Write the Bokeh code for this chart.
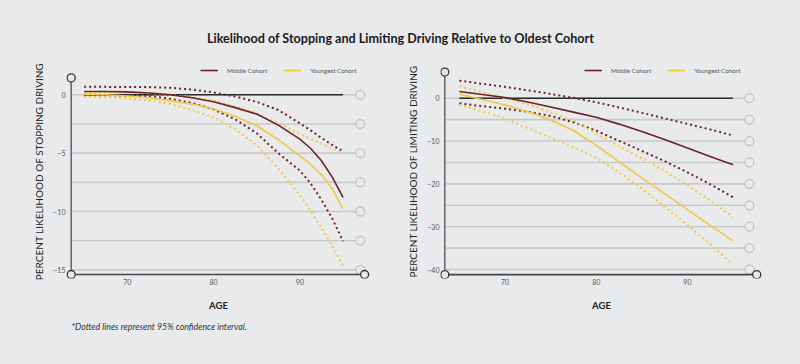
from bokeh.plotting import figure
from bokeh.layouts import column, row
from bokeh.models import (Range1d, Legend, LegendItem, Title, FixedTicker,
                          GlobalInlineStyleSheet)
from bokeh.embed import file_html
from bokeh.resources import INLINE

# ---------------- data ----------------
stop_ages = [65, 67.5, 70, 72.5, 75, 77.5, 80, 82.5, 85, 87.5, 90, 91.25, 92.5, 93.75, 95]
stop_oldest = [0, 0, 0, 0, 0, 0, 0, 0, 0, 0, 0, 0, 0, 0, 0]
stop_middle = [0.28, 0.28, 0.25, 0.15, 0.0, -0.25, -0.6, -1.1, -1.65, -2.6, -3.8, -4.6, -5.65, -7.05, -8.8]
stop_young = [0.05, 0.0, -0.1, -0.28, -0.5, -0.8, -1.2, -1.85, -2.65, -3.85, -5.25, -5.95, -6.85, -8.05, -9.75]
stop_middle_hi = [0.68, 0.68, 0.67, 0.66, 0.6, 0.45, 0.2, -0.15, -0.6, -1.3, -2.45, -3.05, -3.7, -4.3, -4.85]
stop_middle_lo = [-0.03, -0.04, -0.06, -0.08, -0.35, -0.7, -1.25, -2.1, -3.3, -5.0, -6.5, -7.6, -9.0, -10.6, -12.55]
stop_young_hi = [0.2, 0.2, 0.18, 0.14, 0.0, -0.2, -0.5, -1.0, -1.6, -2.45, -3.35, -3.8, -4.2, -4.6, -4.95]
stop_young_lo = [-0.17, -0.2, -0.3, -0.48, -0.8, -1.3, -1.95, -2.95, -4.3, -6.3, -8.6, -9.95, -11.4, -12.95, -14.65]

lim_ages = [65, 67.5, 70, 72.5, 75, 77.5, 80, 82.5, 85, 87.5, 90, 92.5, 95]
lim_oldest = [0, 0, 0, 0, 0, 0, 0, 0, 0, 0, 0, 0, 0]
lim_middle = [1.55, 0.85, 0.15, -0.9, -2.05, -3.25, -4.45, -6.05, -7.8, -9.65, -11.65, -13.6, -15.55]
lim_young = [0.93, -0.3, -1.6, -3.15, -5.1, -7.55, -11.0, -14.8, -18.6, -22.3, -26.0, -29.7, -33.3]
lim_middle_hi = [4.1, 3.35, 2.65, 1.85, 1.0, 0.1, -0.95, -2.15, -3.4, -4.7, -6.0, -7.3, -8.7]
lim_middle_lo = [-1.2, -1.85, -2.45, -3.15, -4.15, -5.6, -7.6, -9.95, -12.3, -14.7, -17.3, -20.1, -23.1]
lim_young_hi = [2.8, 1.35, 0.0, -1.4, -3.25, -5.2, -8.3, -11.2, -14.0, -16.95, -20.35, -23.9, -27.75]
lim_young_lo = [-1.5, -3.1, -4.7, -7.0, -9.2, -11.45, -13.9, -17.3, -21.1, -25.3, -29.6, -34.1, -38.85]

x_ticks = [70, 80, 90]
stop_y_ticks = [0, -5, -10, -15]
stop_grid = [0, -2.5, -5, -7.5, -10, -12.5, -15]
lim_y_ticks = [0, -10, -20, -30, -40]
lim_grid = [0, -5, -10, -15, -20, -25, -30, -35, -40]

series_labels = ["Middle Cohort", "Youngest Cohort"]
title_text = "Likelihood of Stopping and Limiting Driving Relative to Oldest Cohort"
footnote = "*Dotted lines represent 95% confidence interval."

# ---------------- style ----------------
BG = "#e9eaec"
MAROON = "#6e2228"
YELLOW = "#f2c744"
FONT = "Lato"
GRID = "#c9cacc"

HEADER_H = 52
FIG_H = 364 - HEADER_H
FRAME_TOP = 64.0      # page px
FRAME_BOTTOM = 278.0  # page px


def panel(ylabel, ages, oldest, mid, yng, mid_hi, mid_lo, yng_hi, yng_lo, y_ticks, grid_vals,
          ax_x, ax_y0, ax_y1, ax_x1, grid_end_x,
          fig_w, mb_left, mb_right, fig_left_px, x_ppu, axis_px,
          y_ppu, zero_px, legend_x, footer=None):
    frame_left = fig_left_px + mb_left
    frame_w = fig_w - mb_left - mb_right
    x0 = ax_x - (axis_px - frame_left) / x_ppu
    x1 = x0 + frame_w / x_ppu
    y1 = (zero_px - FRAME_TOP) / y_ppu
    y0 = -(FRAME_BOTTOM - zero_px) / y_ppu
    mb_top = int(FRAME_TOP - HEADER_H)
    mb_bottom = int(FIG_H - mb_top - (FRAME_BOTTOM - FRAME_TOP))
    p = figure(width=fig_w, height=FIG_H, x_range=Range1d(x0, x1), y_range=Range1d(y0, y1),
               output_backend="svg", toolbar_location=None,
               min_border_left=mb_left, min_border_right=mb_right,
               min_border_top=mb_top, min_border_bottom=mb_bottom,
               background_fill_color=BG, border_fill_color=BG, outline_line_color=None)
    p.xgrid.visible = False
    p.ygrid.visible = False

    # grid lines with end circles
    p.segment(x0=[ax_x] * len(grid_vals), y0=grid_vals,
              x1=[grid_end_x] * len(grid_vals), y1=grid_vals,
              line_color=GRID, line_width=1.6)
    p.scatter([grid_end_x] * len(grid_vals), grid_vals, size=9, marker="circle",
              line_color="#c2c3c5", fill_color=BG, line_width=1.3)

    # baseline (oldest cohort)
    p.line(ages, oldest, line_color="#2a2a2a", line_width=1.6)

    for vals, col in [(mid_hi, MAROON), (mid_lo, MAROON), (yng_hi, YELLOW), (yng_lo, YELLOW)]:
        p.line(ages, vals, line_color=col, line_width=2, line_dash="2 3")
    r_mid = p.line(ages, mid, line_color=MAROON, line_width=1.6)
    r_yng = p.line(ages, yng, line_color=YELLOW, line_width=1.6)

    # axis spines with end circles
    p.segment(x0=[ax_x], y0=[ax_y0], x1=[ax_x], y1=[ax_y1], line_color="#6a6a6a", line_width=1.6)
    p.segment(x0=[ax_x], y0=[ax_y0], x1=[ax_x1], y1=[ax_y0], line_color="#454545", line_width=1.6)
    p.scatter([ax_x, ax_x, ax_x1], [ax_y1, ax_y0, ax_y0], size=8, marker="circle",
              line_color="#333333", fill_color=BG, line_width=1.3)

    # axes (labels only)
    for ax in p.xaxis:
        ax.ticker = FixedTicker(ticks=x_ticks)
        ax.axis_label = "AGE"
        ax.axis_label_text_font = FONT
        ax.axis_label_text_font_size = "9.5px"
        ax.axis_label_text_font_style = "bold"
        ax.axis_label_text_color = "#222222"
        ax.axis_label_standoff = 12
        ax.major_label_standoff = 0
    for ax in p.yaxis:
        ax.bounds = (ax_y0, ax_y1)
        ax.ticker = FixedTicker(ticks=y_ticks)
        ax.axis_label = ylabel
        ax.axis_label_text_font = FONT
        ax.axis_label_text_font_size = "10px"
        ax.axis_label_text_font_style = "normal"
        ax.axis_label_text_color = "#1e1e1e"
        ax.axis_label_standoff = 5
        ax.major_label_standoff = 1
    for ax in list(p.xaxis) + list(p.yaxis):
        ax.axis_line_color = None
        ax.major_tick_out = 0
        ax.major_tick_in = 0
        ax.minor_tick_out = 0
        ax.minor_tick_in = 0
        ax.major_label_text_font = FONT
        ax.major_label_text_font_size = "7px"
        ax.major_label_text_color = "#555555"

    legend = Legend(items=[LegendItem(label=series_labels[0], renderers=[r_mid]),
                           LegendItem(label=series_labels[1], renderers=[r_yng])],
                    orientation="horizontal",
                    location=(legend_x, FRAME_BOTTOM - 74),
                    padding=0, margin=0, spacing=16, glyph_width=18, glyph_height=8,
                    label_standoff=9, label_text_font=FONT, label_text_font_size="6.3px",
                    label_text_color="#555555", background_fill_alpha=0,
                    border_line_color=None)
    p.add_layout(legend)

    if footer:
        p.add_layout(Title(text=footer, align="left", offset=5, text_font=FONT,
                           text_font_size="8.8px", text_font_style="italic",
                           text_color="#333333"), "below")
    return p


p1 = panel("PERCENT LIKELIHOOD OF STOPPING DRIVING", stop_ages, stop_oldest,
           stop_middle, stop_young, stop_middle_hi, stop_middle_lo, stop_young_hi, stop_young_lo,
           stop_y_ticks, stop_grid,
           ax_x=63.5, ax_y0=-15.4, ax_y1=1.45, ax_x1=97.5, grid_end_x=97.0,
           fig_w=400, mb_left=66, mb_right=30, fig_left_px=0, x_ppu=8.63, axis_px=70.7,
           y_ppu=11.67, zero_px=94.3, legend_x=134, footer=footnote)

p2 = panel("PERCENT LIKELIHOOD OF LIMITING DRIVING", lim_ages, lim_oldest,
           lim_middle, lim_young, lim_middle_hi, lim_middle_lo, lim_young_hi, lim_young_lo,
           lim_y_ticks, lim_grid,
           ax_x=63.4, ax_y0=-41.2, ax_y1=6.1, ax_x1=97.6, grid_end_x=96.8,
           fig_w=400, mb_left=40, mb_right=38, fig_left_px=400, x_ppu=9.12, axis_px=444.3,
           y_ppu=4.283, zero_px=97.7, legend_x=144)

header = figure(width=800, height=HEADER_H, x_range=Range1d(0, 1), y_range=Range1d(0, 1),
                output_backend="svg", toolbar_location=None,
                min_border_left=0, min_border_right=0, min_border_top=50, min_border_bottom=0,
                background_fill_color=BG, border_fill_color=BG, outline_line_color=None)
header.xaxis.visible = False
header.yaxis.visible = False
header.xgrid.visible = False
header.ygrid.visible = False
header.title.text = title_text
header.title.align = "center"
header.title.text_font = FONT
header.title.text_font_size = "12.6px"
header.title.text_font_style = "bold"
header.title.text_color = "#1a1a1a"

layout = column(header, row(p1, p2))
layout.stylesheets = [GlobalInlineStyleSheet(css="html, body { background-color: #e9eaec; }")]

open("out.html", "w").write(file_html(layout, INLINE))
